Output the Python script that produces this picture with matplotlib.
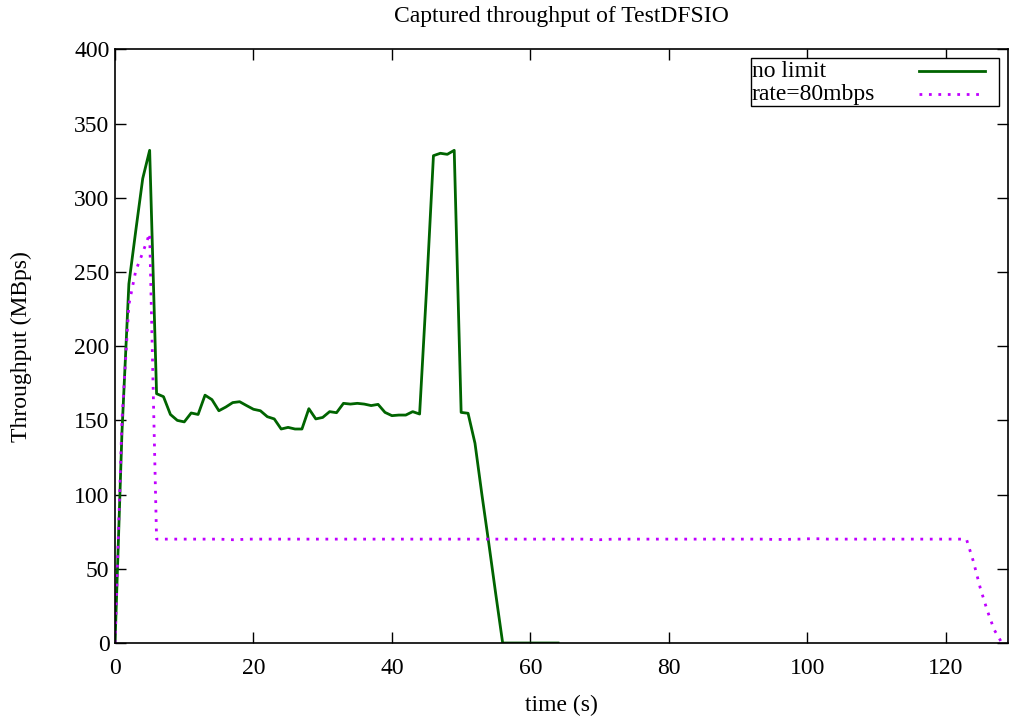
import matplotlib
matplotlib.use("Agg")
import matplotlib.pyplot as plt

plt.rcParams['font.family'] = ['Liberation Serif', 'DejaVu Serif']

# no limit run: one sample per second
t_nolimit = list(range(0, 65))
nolimit = [0, 142, 242, 278, 313, 332, 168, 166, 154, 150,
           149, 155, 154, 167, 164, 156.5, 159, 162, 162.6, 160,
           157.5, 156.5, 152.5, 151, 144.2, 145.3, 144.2, 144.2, 157.9, 151,
           152, 155.9, 155.2, 161.5, 161, 161.5, 161, 160, 160.8, 155.4,
           153.2, 153.6, 153.6, 155.9, 154.3, 238, 328.4, 330, 329.3, 332,
           155.4, 154.8, 134.6, 100, 67, 33, 0, 0, 0, 0,
           0, 0, 0, 0, 0]

# rate-limited run (80 mbps)
t_rate = list(range(0, 130))
rate80 = [0, 150, 228, 251, 263, 276, 70, 70, 70, 70,
          70, 70, 70, 70, 70, 70, 69.8, 69.6, 69.7, 70,
          70, 70, 70, 70, 70, 70, 70, 70, 70, 70,
          70, 70, 70, 70, 70, 70, 70, 70, 70, 70,
          70, 70, 70, 70, 70, 70, 70, 70, 70, 70,
          70, 70, 70, 70, 70, 70, 70, 70, 70, 70,
          70, 70, 70, 70, 70, 70, 70, 70, 70, 69.7,
          69.6, 69.8, 70, 70, 70, 70, 70, 70, 70, 70,
          70, 70, 70, 70, 70, 70, 70, 70, 70, 70,
          70, 70, 70, 70, 70, 69.8, 69.8, 69.8, 70, 70,
          70.2, 70.3, 70.2, 70, 70, 70, 70, 70, 70, 70,
          70, 70, 70, 70, 70, 70, 70, 70, 70, 70,
          70, 70, 70, 70, 55, 37, 22, 9, 1, 0]

labels = ['no limit', 'rate=80mbps']
colors = ['#006400', '#c000ff']
styles = ['-', (0, (1, 2.4))]

fig = plt.figure(figsize=(10.1, 7.17), dpi=100)
ax = fig.add_axes([0.1139, 0.1032, 0.8841, 0.8279])

ax.plot(t_nolimit, nolimit, color=colors[0], lw=2, linestyle=styles[0])
ax.plot(t_rate, rate80, color=colors[1], lw=2, linestyle=styles[1])

ax.set_xlim(0, 129)
ax.set_ylim(0, 400)
ax.set_xticks(range(0, 121, 20))
ax.set_yticks(range(0, 401, 50))
ax.tick_params(direction='in', length=8, width=1, top=True, right=True,
               labelsize=17)
ax.tick_params(axis='x', pad=11)
ax.tick_params(axis='y', pad=4)
for s in ax.spines.values():
    s.set_linewidth(1.2)

ax.set_title('Captured throughput of TestDFSIO', fontsize=17, pad=20)
ax.set_xlabel('time (s)', fontsize=17, labelpad=11)
ax.set_ylabel('Throughput (MBps)', fontsize=17, labelpad=30)

# gnuplot-style key: text left, sample on the right, boxed
box = plt.Rectangle((0.7119, 0.9051), 0.278, 0.0799, transform=ax.transAxes,
                    fill=True, facecolor='white', edgecolor='black', lw=1.0,
                    zorder=5)
ax.add_patch(box)
for i, (lab, c, ls) in enumerate(zip(labels, colors, styles)):
    ty = 0.9624 - i * 0.0392
    ax.text(0.7128, ty, lab, transform=ax.transAxes, fontsize=17,
            va='center', ha='left', zorder=6)
    ax.plot([0.9003, 0.9742], [ty + 0.0017, ty + 0.0017], transform=ax.transAxes,
            color=c, lw=2, linestyle=ls, zorder=6, clip_on=False)

fig.savefig('out.png', dpi=100)
